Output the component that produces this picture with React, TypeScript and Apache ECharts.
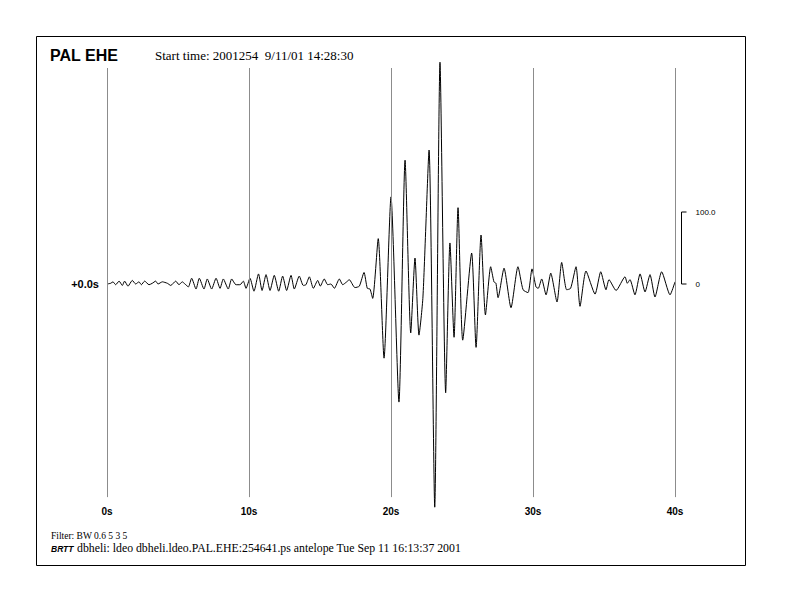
import React, { useEffect, useRef } from "react";
import * as echarts from "echarts";

// Seismogram samples (time in s, amplitude in counts)
const times = [
  0, 0.26, 0.42, 0.61, 0.85, 1.08, 1.24, 1.48, 1.78, 2.02,
  2.25, 2.42, 2.65, 2.96, 3.19, 3.43, 3.59, 3.9, 4.25, 4.49,
  4.84, 5.07, 5.3, 5.49, 5.73, 5.96, 6.27, 6.5, 6.83, 7.06,
  7.37, 7.68, 7.96, 8.19, 8.54, 8.78, 9.08, 9.37, 9.6, 9.79,
  10.07, 10.35, 10.67, 10.92, 11.2, 11.48, 11.78, 12.09, 12.37, 12.65,
  12.96, 13.19, 13.54, 13.82, 14.01, 14.25, 14.53, 14.84, 15.02, 15.3,
  15.54, 15.77, 16.01, 16.36, 16.6, 16.88, 17.06, 17.46, 17.77, 18.1,
  18.33, 18.52, 18.71, 19.1, 19.51, 20.0, 20.56, 20.99, 21.39, 21.69,
  21.97, 22.25, 22.68, 23.08, 23.45, 23.85, 24.15, 24.44, 24.72, 25.05,
  25.68, 25.99, 26.34, 26.65, 27.02, 27.25, 27.39, 27.54, 27.96, 28.45,
  28.94, 29.3, 29.65, 29.93, 30.21, 30.37, 30.61, 30.92, 31.25, 31.69,
  32.02, 32.37, 32.65, 33.03, 33.31, 33.73, 34.37, 34.77, 35.14, 35.35,
  35.85, 36.48, 36.64, 36.83, 37.18, 37.54, 37.89, 38.24, 38.59, 39.06,
  39.65, 40.0,
];
const amplitudes = [
  0, 1, 3, -1, 4, -2, 4, -3, 5, 0,
  3, -1, 4, -1, 1, 4, 0, 3, 1, -2,
  4, -1, 3, 0, -4, 8, -7, 8, -7, 7,
  -7, 8, -6, 7, -7, 7, -1, -1, 4, -6,
  8, -10, 14, -9, 13, -9, 12, -10, 11, -9,
  12, -7, 11, -2, -1, 10, -6, 5, -3, 7,
  -1, 0, -6, 7, -1, 3, 6, -5, -3, 16,
  -6, -7, -20, 63, -103, 121, -164, 172, -68, 36,
  -71, -18, 186, -310, 308, -151, 57, -74, 106, -78,
  43, -88, 68, -43, 24, 3, 1, -19, 22, -33,
  24, -8, -12, 21, -4, -6, 7, -15, 15, -25,
  30, -8, -6, 24, -31, 18, -14, 17, -8, 6,
  -9, 10, 1, 6, -15, 14, -11, 13, -18, 17,
  -15, 3,
];
const timeTicks = [0, 10, 20, 30, 40];
const scaleBar = [0, 100];
const scaleLabels = ["0", "100.0"];

const title = "PAL EHE";
const startTime = "Start time: 2001254  9/11/01 14:28:30";
const filterText = "Filter: BW 0.6 5 3 5";
const brtt = "BRTT";
const footer = "dbheli: ldeo dbheli.ldeo.PAL.EHE:254641.ps antelope Tue Sep 11 16:13:37 2001";

const SANS = "'Liberation Sans', Arial, sans-serif";
const SERIF = "'Liberation Serif', 'Times New Roman', serif";

export default function App() {
  const ref = useRef<HTMLDivElement>(null);
  useEffect(() => {
    if (!ref.current) return;
    const chart = echarts.init(ref.current, undefined, { renderer: "svg" });
    const data = times.map((t, i) => [t, amplitudes[i]]);
    chart.setOption({
      animation: false,
      backgroundColor: "#ffffff",
      grid: { left: 107, right: 117, top: 68, height: 432 },
      xAxis: {
        type: "value",
        min: 0,
        max: 40,
        interval: 10,
        axisLine: { show: false },
        axisTick: { show: false },
        splitLine: { show: false },
        axisLabel: {
          formatter: "{value}s",
          color: "#000",
          fontFamily: SANS,
          fontWeight: "bold",
          fontSize: 10,
          margin: 6,
        },
      },
      yAxis: {
        type: "value",
        min: -300,
        max: 300,
        interval: 300,
        axisLine: { show: false },
        axisTick: { show: false },
        splitLine: { show: false },
        axisLabel: {
          formatter: (v: number) => (v === 0 ? "+0.0s" : ""),
          color: "#000",
          fontFamily: SANS,
          fontWeight: "bold",
          fontSize: 11,
          margin: 8,
        },
      },
      series: [
        {
          type: "line",
          data,
          showSymbol: false,
          smooth: 0.2,
          clip: false,
          lineStyle: { color: "#000", width: 1 },
          markLine: {
            silent: true,
            symbol: "none",
            label: { show: false },
            lineStyle: { color: "#8c8c8c", width: 1, type: "solid" },
            data: timeTicks.map((t) => [{ coord: [t, 300] }, { coord: [t, -296] }]),
          },
          z: 3,
        },
      ],
    });

    const p0 = chart.convertToPixel({ gridIndex: 0 }, [timeTicks[timeTicks.length - 1], scaleBar[0]]) as number[];
    const p1 = chart.convertToPixel({ gridIndex: 0 }, [timeTicks[timeTicks.length - 1], scaleBar[1]]) as number[];
    const bx = p0[0] + 6.5;

    chart.setOption({
      graphic: [
        {
          type: "rect",
          shape: { x: 36.5, y: 36.5, width: 709, height: 529 },
          style: { fill: "none", stroke: "#000", lineWidth: 1 },
          silent: true,
        },
        {
          type: "text",
          left: 50,
          top: 47,
          style: { text: title, fontFamily: SANS, fontWeight: "bold", fontSize: 16, fill: "#000" },
        },
        {
          type: "text",
          left: 155,
          top: 49,
          style: { text: startTime, fontFamily: SERIF, fontSize: 13, fill: "#000" },
        },
        {
          type: "polyline",
          shape: { points: [[bx + 5, p1[1]], [bx, p1[1]], [bx, p0[1]], [bx + 5, p0[1]]] },
          style: { stroke: "#000", lineWidth: 1, fill: "none" },
          silent: true,
        },
        {
          type: "text",
          x: bx + 14,
          y: p1[1],
          style: { text: scaleLabels[1], fontFamily: SANS, fontSize: 8, fill: "#000", verticalAlign: "middle", align: "left" },
        },
        {
          type: "text",
          x: bx + 14,
          y: p0[1],
          style: { text: scaleLabels[0], fontFamily: SANS, fontSize: 8, fill: "#000", verticalAlign: "middle", align: "left" },
        },
        {
          type: "text",
          left: 51,
          top: 531,
          style: { text: filterText, fontFamily: SERIF, fontSize: 9.5, fill: "#000" },
        },
        {
          type: "text",
          left: 51,
          top: 544,
          style: { text: brtt, fontFamily: SANS, fontWeight: "bold", fontStyle: "italic", fontSize: 8.5, fill: "#000" },
        },
        {
          type: "text",
          left: 77,
          top: 542,
          style: { text: footer, fontFamily: SERIF, fontSize: 11.8, fill: "#000" },
        },
      ],
    });
    return () => chart.dispose();
  }, []);
  return (
    <div
      ref={ref}
      style={{ position: "fixed", left: 0, top: 0, width: 792, height: 612, background: "#fff" }}
    />
  );
}
